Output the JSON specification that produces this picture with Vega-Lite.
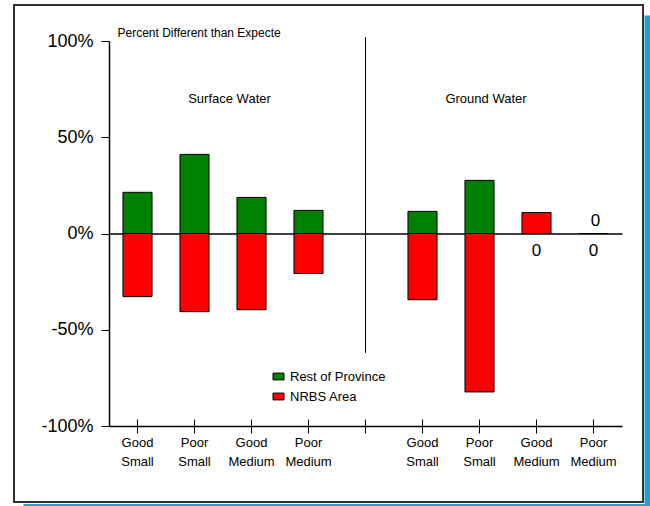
{
  "$schema": "https://vega.github.io/schema/vega-lite/v6.json",
  "width": 629,
  "height": 497,
  "autosize": "none",
  "padding": {"left": 14, "top": 5, "right": 7, "bottom": 4},
  "background": "white",
  "config": {
    "view": {"stroke": "#333333", "strokeWidth": 2},
    "font": "Liberation Sans",
    "locale": {"number": {"decimal": ".", "thousands": ",", "grouping": [3], "currency": ["$", ""], "minus": "-"}},
    "axis": {"grid": false, "domainColor": "black", "tickColor": "black", "labelColor": "black", "titleColor": "black"}
  },
  "data": {
    "values": [
      {"cat": "Good Small|SW", "Rest of Province": 0.214, "NRBS Area": -0.328},
      {"cat": "Poor Small|SW", "Rest of Province": 0.411, "NRBS Area": -0.406},
      {"cat": "Good Medium|SW", "Rest of Province": 0.1875, "NRBS Area": -0.396},
      {"cat": "Poor Medium|SW", "Rest of Province": 0.12, "NRBS Area": -0.208},
      {"cat": "Good Small|GW", "Rest of Province": 0.115, "NRBS Area": -0.344},
      {"cat": "Poor Small|GW", "Rest of Province": 0.276, "NRBS Area": -0.823},
      {"cat": "Good Medium|GW", "Rest of Province": 0, "NRBS Area": 0.109},
      {"cat": "Poor Medium|GW", "Rest of Province": 0, "NRBS Area": 0}
    ]
  },
  "resolve": {
    "scale": {"x": "independent", "y": "independent"},
    "axis": {"x": "independent", "y": "independent"}
  },
  "layer": [
    {
      "resolve": {"axis": {"x": "independent"}},
      "layer": [
        {
          "transform": [{"fold": ["Rest of Province", "NRBS Area"], "as": ["series", "value"]}],
          "mark": {"type": "bar", "stroke": "black", "strokeWidth": 1},
          "encoding": {
            "x": {
              "field": "cat",
              "type": "nominal",
              "scale": {
                "domain": ["Good Small|SW", "Poor Small|SW", "Good Medium|SW", "Poor Medium|SW", "|gap", "Good Small|GW", "Poor Small|GW", "Good Medium|GW", "Poor Medium|GW"],
                "range": [95, 608],
                "paddingInner": 0.49,
                "paddingOuter": 0.245
              },
              "axis": {
                "orient": "bottom",
                "offset": -76,
                "title": null,
                "domain": true,
                "domainWidth": 1.5,
                "ticks": true,
                "tickSize": 7,
                "tickWidth": 1,
                "labelExpr": "split(split(datum.value, '|')[0], ' ')",
                "labelFontSize": 13,
                "labelFont": "Liberation Sans Narrow, Liberation Sans",
                "labelLineHeight": 19,
                "labelPadding": 3,
                "labelAngle": 0
              }
            },
            "y": {
              "field": "value",
              "type": "quantitative",
              "stack": null,
              "scale": {"domain": [-1, 1], "range": [421, 36], "nice": false},
              "axis": {
                "orient": "left",
                "offset": -95,
                "values": [-1, -0.5, 0, 0.5, 1],
                "format": ".0%",
                "tickSize": 8,
                "tickWidth": 1,
                "domainWidth": 1.5,
                "labelFontSize": 18,
                "labelPadding": 8,
                "title": "Percent Different than Expecte",
                "titleAngle": 0,
                "titleAlign": "left",
                "titleBaseline": "middle",
                "titleX": 8,
                "titleY": 27,
                "titleFontSize": 12,
                "titleFontWeight": "normal"
              }
            },
            "color": {
              "field": "series",
              "type": "nominal",
              "scale": {"domain": ["Rest of Province", "NRBS Area"], "range": ["#008000", "#ff0000"]},
              "legend": {
                "title": null,
                "orient": "none",
                "legendX": 258,
                "legendY": 365,
                "direction": "vertical",
                "symbolType": "M-1,-0.62H1V0.62H-1Z",
                "symbolSize": 121,
                "symbolStrokeColor": "black",
                "symbolStrokeWidth": 1,
                "labelFontSize": 13,
                "labelOffset": 5,
                "rowPadding": 6,
                "padding": 0,
                "labelColor": "black"
              }
            }
          }
        },
        {
          "data": {"values": [{"note": "divider"}]},
          "mark": {"type": "rule", "color": "black", "strokeWidth": 1},
          "encoding": {
            "x": {
              "datum": "|gap",
              "type": "nominal",
              "axis": {"orient": "bottom", "offset": -268.5, "title": null, "ticks": false, "labels": false, "domain": true, "domainWidth": 1.5}
            },
            "y": {"datum": 1.02},
            "y2": {"datum": -0.62}
          }
        },
        {
          "transform": [{"filter": "datum['Rest of Province'] == 0"}],
          "mark": {"type": "text", "fontSize": 17, "dy": 17, "baseline": "middle", "color": "black"},
          "encoding": {
            "x": {
              "field": "cat",
              "type": "nominal",
              "axis": {"orient": "top", "offset": -421, "title": null, "domain": false, "labels": false, "ticks": true, "tickSize": 7, "tickWidth": 1}
            },
            "y": {"field": "Rest of Province", "type": "quantitative"},
            "text": {"field": "Rest of Province", "type": "quantitative", "format": "d"}
          }
        },
        {
          "transform": [{"filter": "datum['NRBS Area'] == 0"}],
          "mark": {"type": "text", "fontSize": 17, "dy": -13, "dx": 2, "baseline": "middle", "color": "black"},
          "encoding": {
            "x": {"field": "cat", "type": "nominal", "axis": null},
            "y": {"field": "NRBS Area", "type": "quantitative"},
            "text": {"field": "NRBS Area", "type": "quantitative", "format": "d"}
          }
        },
        {
          "data": {"values": [{"region": "Surface Water"}]},
          "mark": {"type": "text", "fontSize": 13, "dx": -22, "baseline": "middle", "color": "black"},
          "encoding": {
            "x": {"datum": "Good Medium|SW", "type": "nominal", "axis": null},
            "y": {"datum": 0.7},
            "text": {"field": "region", "type": "nominal"}
          }
        },
        {
          "data": {"values": [{"region": "Ground Water"}]},
          "mark": {"type": "text", "fontSize": 13, "dx": 6.5, "baseline": "middle", "color": "black"},
          "encoding": {
            "x": {"datum": "Poor Small|GW", "type": "nominal", "axis": null},
            "y": {"datum": 0.7},
            "text": {"field": "region", "type": "nominal"}
          }
        }
      ]
    },
    {
      "data": {"values": [{"note": "frame shadow"}]},
      "mark": {"type": "point", "opacity": 0},
      "encoding": {
        "x": {
          "datum": 0,
          "type": "quantitative",
          "scale": {"domain": [0, 1], "range": [9, 636]},
          "axis": {"orient": "bottom", "offset": 3, "title": null, "ticks": false, "labels": false, "grid": false, "domain": true, "domainColor": "#1AA3DA", "domainWidth": 3}
        },
        "y": {
          "datum": 0,
          "type": "quantitative",
          "scale": {"domain": [0, 1], "range": [501, 10]},
          "axis": {"orient": "right", "offset": 4, "title": null, "ticks": false, "labels": false, "grid": false, "domain": true, "domainColor": "#1AA3DA", "domainWidth": 6}
        }
      }
    }
  ]
}
